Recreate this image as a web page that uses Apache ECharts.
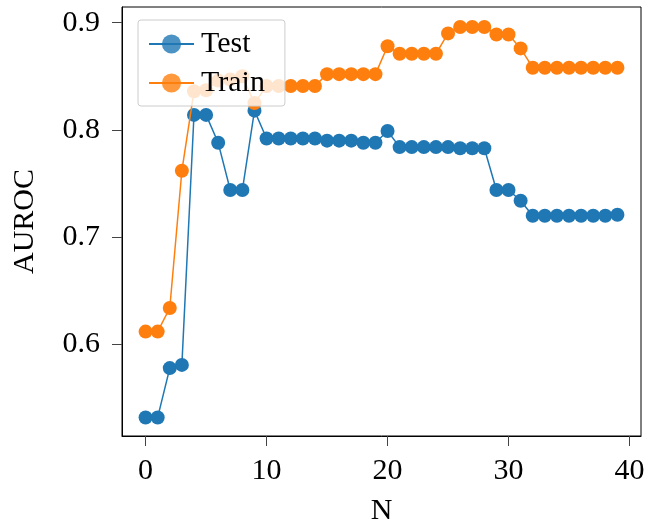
<!DOCTYPE html>
<html>
<head>
<meta charset="utf-8">
<script src="https://cdn.jsdelivr.net/npm/echarts@6/dist/echarts.min.js"></script>
<style>
html,body{margin:0;padding:0;background:#fff;}
#chart{width:649px;height:531px;}
</style>
</head>
<body>
<div id="chart"></div>
<script>
const nValues = [0,1,2,3,4,5,6,7,8,9,10,11,12,13,14,15,16,17,18,19,20,21,22,23,24,25,26,27,28,29,30,31,32,33,34,35,36,37,38,39];
const testValues = [0.532,0.532,0.578,0.581,0.814,0.814,0.788,0.744,0.744,0.818,
  0.792,0.792,0.792,0.792,0.792,0.790,0.790,0.790,0.788,0.788,
  0.799,0.784,0.784,0.784,0.784,0.784,0.783,0.783,0.783,0.744,
  0.744,0.734,0.720,0.720,0.720,0.720,0.720,0.720,0.720,0.721];
const trainValues = [0.612,0.612,0.634,0.762,0.836,0.837,0.846,0.847,0.850,0.825,
  0.841,0.841,0.841,0.841,0.841,0.852,0.852,0.852,0.852,0.852,
  0.878,0.871,0.871,0.871,0.871,0.890,0.896,0.896,0.896,0.889,
  0.889,0.876,0.858,0.858,0.858,0.858,0.858,0.858,0.858,0.858];
const xTicks = [0,10,20,30,40];
const yTicks = [0.6,0.7,0.8,0.9];
const seriesNames = ['Test','Train'];
const colors = ['#1f77b4','#ff7f0e'];

const font = 'Liberation Serif';
const chart = echarts.init(document.getElementById('chart'), null, {renderer:'canvas'});
const mk = (arr) => nValues.map((n,i)=>[n, arr[i]]);
chart.setOption({
  animation:false,
  textStyle:{fontFamily:font,color:'#000'},
  grid:{left:122,right:8,top:7,bottom:94,show:true,borderColor:'#000',borderWidth:1,backgroundColor:'transparent'},
  legend:{
    orient:'vertical', left:138, top:20,
    padding:[8,20,7,10],
    itemWidth:45, itemHeight:24, itemGap:7,
    backgroundColor:'rgba(255,255,255,0.8)',
    borderColor:'#cccccc', borderWidth:1, borderRadius:3,
    textStyle:{fontFamily:font,fontSize:30,color:'#000',lineHeight:32,padding:[0,0,0,2]},
    itemStyle:{opacity:0.8},
    data:seriesNames
  },
  xAxis:{
    type:'value', min:-1.95, max:40.95,
    name:'N', nameLocation:'middle', nameGap:60,
    nameTextStyle:{fontFamily:font,fontSize:30,color:'#000'},
    axisLine:{show:true,onZero:false,lineStyle:{color:'#000',width:1}},
    axisTick:{show:true,length:10,lineStyle:{color:'#444',width:1},customValues:xTicks},
    axisLabel:{fontFamily:font,fontSize:30,color:'#000',margin:20,customValues:xTicks},
    splitLine:{show:false}
  },
  yAxis:{
    type:'value', min:0.5147, max:0.9146,
    name:'AUROC', nameLocation:'middle', nameGap:82, nameRotate:90,
    nameTextStyle:{fontFamily:font,fontSize:30,color:'#000'},
    axisLine:{show:true,onZero:false,lineStyle:{color:'#000',width:1}},
    axisTick:{show:true,length:10,lineStyle:{color:'#444',width:1},customValues:yTicks},
    axisLabel:{fontFamily:font,fontSize:30,color:'#000',margin:22,customValues:yTicks,
      formatter:(v)=>v.toFixed(1)},
    splitLine:{show:false}
  },
  series:[
    {name:seriesNames[0],type:'line',data:mk(testValues),symbol:'circle',symbolSize:14,showAllSymbol:true,
     color:colors[0],lineStyle:{color:colors[0],width:1.5},itemStyle:{color:colors[0]},z:2},
    {name:seriesNames[1],type:'line',data:mk(trainValues),symbol:'circle',symbolSize:14,showAllSymbol:true,
     color:colors[1],lineStyle:{color:colors[1],width:1.5},itemStyle:{color:colors[1]},z:3}
  ]
});
</script>
</body>
</html>
